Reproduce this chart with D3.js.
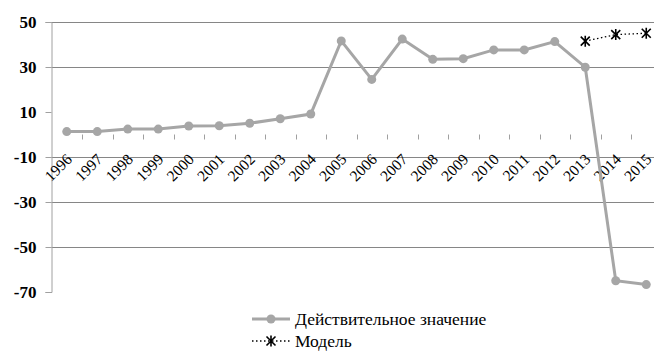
<!DOCTYPE html>
<html>
<head>
<meta charset="utf-8">
<script src="https://cdn.jsdelivr.net/npm/d3@7"></script>
<style>
  body { margin: 0; background: #fff; }
</style>
</head>
<body>
<div id="viz"></div>
<script>
// data
let years = ['1996', '1997', '1998', '1999', '2000', '2001', '2002', '2003', '2004', '2005',
    '2006', '2007', '2008', '2009', '2010', '2011', '2012', '2013', '2014', '2015'];
let actual = [1.3, 1.3, 2.4, 2.4, 3.8, 3.9, 5.0, 7.0, 9.1, 41.6,
    24.5, 42.4, 33.4, 33.7, 37.6, 37.6, 41.3, 29.9, -65.0, -66.7];
let modelYears = ['2013', '2014', '2015'];
let modelValues = [41.5, 44.4, 45.0];
let yTicks = [50, 30, 10, -10, -30, -50, -70];
let gridValues = [50, 30, -10, -30, -50];
let legendLabels = ['Действительное значение', 'Модель'];

let width = 654, height = 353;
let margin = { left: 51.5, top: 22, bottom: 292 };
let serif = "'Liberation Serif'";

let svg = d3.select('#viz')
    .append('svg')
    .attr('width', width)
    .attr('height', height);

let xScale = d3.scaleBand()
    .domain(years)
    .range([margin.left, margin.left + years.length * 30.5]);

let yScale = d3.scaleLinear()
    .domain([-70, 50])
    .range([margin.bottom, margin.top]);

let cx = (d) => xScale(d) + xScale.bandwidth() / 2;

// gridlines
svg.append('g')
    .selectAll('line').data(gridValues)
    .enter()
    .append('line')
    .attr('x1', margin.left)
    .attr('x2', width)
    .attr('y1', (d) => Math.round(yScale(d)) + 0.5)
    .attr('y2', (d) => Math.round(yScale(d)) + 0.5)
    .attr('stroke', '#868686')
    .attr('stroke-width', 1);

// y axis
let yAxis = d3.axisLeft(yScale)
    .tickValues(yTicks)
    .tickSize(6)
    .tickPadding(9)
    .tickFormat((d) => String(d));

let yGuide = svg.append('g')
    .attr('transform', 'translate(' + margin.left + ',0)')
    .call(yAxis);
yGuide.select('.domain').attr('stroke', '#a0a0a0');
yGuide.selectAll('.tick line').attr('stroke', '#a0a0a0');
yGuide.selectAll('text')
    .attr('fill', '#000')
    .style('font-family', serif)
    .style('font-size', '17px')
    .style('font-weight', 'bold');

// category tick marks at zero
svg.append('g')
    .selectAll('line').data(years.slice(1))
    .enter()
    .append('line')
    .attr('x1', (d) => Math.round(xScale(d)) + 0.5)
    .attr('x2', (d) => Math.round(xScale(d)) + 0.5)
    .attr('y1', yScale(0))
    .attr('y2', yScale(0) + 5)
    .attr('stroke', '#a0a0a0');

// category labels
svg.append('g')
    .selectAll('text').data(years)
    .enter()
    .append('text')
    .attr('transform', (d) => 'translate(' + (cx(d) - 2) + ',' + (yScale(-10) - 5) + ') rotate(-45)')
    .attr('text-anchor', 'end')
    .attr('dy', '0.75em')
    .style('font-family', serif)
    .style('font-size', '15.5px')
    .attr('fill', '#000')
    .text((d) => d);

// actual series
let line = d3.line()
    .x((d, i) => cx(years[i]))
    .y((d) => yScale(d));

svg.append('path')
    .datum(actual)
    .attr('d', line)
    .attr('fill', 'none')
    .attr('stroke', '#a6a6a6')
    .attr('stroke-width', 3);

svg.append('g')
    .selectAll('circle').data(actual)
    .enter()
    .append('circle')
    .attr('cx', (d, i) => cx(years[i]))
    .attr('cy', (d) => yScale(d))
    .attr('r', 4.5)
    .attr('fill', '#a6a6a6');

// model series
let modelLine = d3.line()
    .x((d, i) => cx(modelYears[i]))
    .y((d) => yScale(d));

svg.append('path')
    .datum(modelValues)
    .attr('d', modelLine)
    .attr('fill', 'none')
    .attr('stroke', '#000')
    .attr('stroke-width', 1.3)
    .attr('stroke-dasharray', '1.5,2.5');

let star = (x, y, s) =>
    'M' + (x - s) + ',' + (y - s) + 'L' + (x + s) + ',' + (y + s) +
    'M' + (x - s) + ',' + (y + s) + 'L' + (x + s) + ',' + (y - s) +
    'M' + x + ',' + (y - s - 1) + 'L' + x + ',' + (y + s + 1);

svg.append('g')
    .selectAll('path').data(modelValues)
    .enter()
    .append('path')
    .attr('d', (d, i) => star(cx(modelYears[i]), yScale(d), 4.5))
    .attr('stroke', '#000')
    .attr('stroke-width', 1.6)
    .attr('fill', 'none');

// legend
let legend = svg.append('g');

legend.append('line')
    .attr('x1', 252).attr('x2', 290)
    .attr('y1', 319).attr('y2', 319)
    .attr('stroke', '#a6a6a6')
    .attr('stroke-width', 3);
legend.append('circle')
    .attr('cx', 271).attr('cy', 319).attr('r', 4.5)
    .attr('fill', '#a6a6a6');
legend.append('text')
    .attr('x', 295).attr('y', 325)
    .style('font-family', serif)
    .style('font-size', '17.5px')
    .text(legendLabels[0]);

legend.append('line')
    .attr('x1', 252).attr('x2', 290)
    .attr('y1', 341).attr('y2', 341)
    .attr('stroke', '#000')
    .attr('stroke-width', 1.3)
    .attr('stroke-dasharray', '1.5,2.5');
legend.append('path')
    .attr('d', star(271, 341, 4.5))
    .attr('stroke', '#000')
    .attr('stroke-width', 1.6)
    .attr('fill', '#fff');
legend.append('text')
    .attr('x', 295).attr('y', 347)
    .style('font-family', serif)
    .style('font-size', '17.5px')
    .text(legendLabels[1]);
</script>
</body>
</html>
